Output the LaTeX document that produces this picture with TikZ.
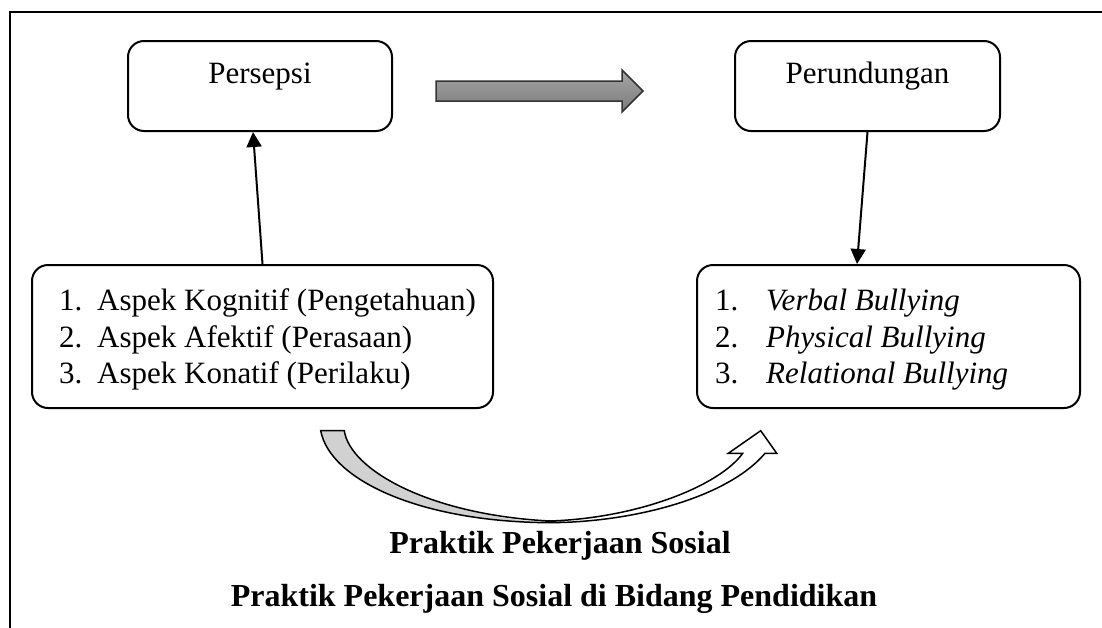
\documentclass[tikz,border=0pt]{standalone}
\usepackage{fontspec}
\setmainfont{Liberation Serif}
\usetikzlibrary{arrows.meta}
\begin{document}
\begin{tikzpicture}[x=1pt,y=-1pt,
  box/.style={draw, line width=2pt, rounded corners=16pt, inner sep=0pt},
  reg/.style={font=\fontsize{31}{37}\selectfont},
  txt/.style={reg, inner sep=0pt, anchor=base west},
  ttl/.style={font=\fontsize{32}{38}\selectfont\bfseries, inner sep=0pt, anchor=base},
  conn/.style={line width=2pt, -{Triangle[length=15pt,width=15pt]}},
]
\useasboundingbox (0,0) rectangle (1102,627);
\draw[line width=2.2pt] (10,630) -- (10,12) -- (1105,12);

% top boxes
\node[box, reg, minimum width=264pt, text height=42pt, text depth=48pt] (pers) at (260,86) {Persepsi};
\node[box, reg, minimum width=265pt, text height=42pt, text depth=48pt] (prd) at (867.5,86) {Perundungan};

% block arrow
\draw[draw=black!80, line width=1.5pt, top color=black!35, bottom color=black!52]
  (436,81) -- (622,81) -- (622,70) -- (643,91) -- (622,112) -- (622,101) -- (436,101) -- cycle;

% list boxes
\node[box, minimum width=461pt, minimum height=143pt] (asp) at (262.5,336.5) {};
\node[box, minimum width=383pt, minimum height=143pt] (bly) at (888.5,336.5) {};

\node[txt] (l1n) at (59,310) {1.};
\node[txt] (l1t) at (97,310) {Aspek Kognitif (Pengetahuan)};
\node[txt] (l2n) at (59,347) {2.};
\node[txt] (l2t) at (97,347) {Aspek Afektif (Perasaan)};
\node[txt] (l3n) at (59,383) {3.};
\node[txt] (l3t) at (97,383) {Aspek Konatif (Perilaku)};

\node[txt] (r1n) at (715,310) {1.};
\node[txt] (r1t) at (766,310) {\itshape Verbal Bullying};
\node[txt] (r2n) at (715,347) {2.};
\node[txt] (r2t) at (766,347) {\itshape Physical Bullying};
\node[txt] (r3n) at (715,383) {3.};
\node[txt] (r3t) at (766,383) {\itshape Relational Bullying};

% connectors
\draw[conn] (asp.north) -- ([xshift=-7pt]pers.south);
\draw[conn] (prd.south) -- ([xshift=-31.5pt]bly.north);

% curved arrow
\fill[black!18] (320.7,430.7) .. controls (330,480) and (420,522) .. (550,522.7)
  .. controls (430,515) and (350,470) .. (344.3,430.7) -- cycle;
\draw[line width=1.5pt, line join=miter]
  (320.7,430.7) .. controls (330,480) and (420,522) .. (550,522.7)
  .. controls (640,522) and (730,495) .. (765,453.3)
  -- (776.7,453.3) -- (760.7,430.7) -- (728.3,453.3) -- (742.7,453.3)
  .. controls (720,485) and (640,518) .. (550,521)
  .. controls (430,515) and (350,470) .. (344.3,430.7) -- cycle;

% titles
\node[ttl] (t1) at (560,553) {Praktik Pekerjaan Sosial};
\node[ttl] (t2) at (554,606) {Praktik Pekerjaan Sosial di Bidang Pendidikan};
\end{tikzpicture}
\end{document}
